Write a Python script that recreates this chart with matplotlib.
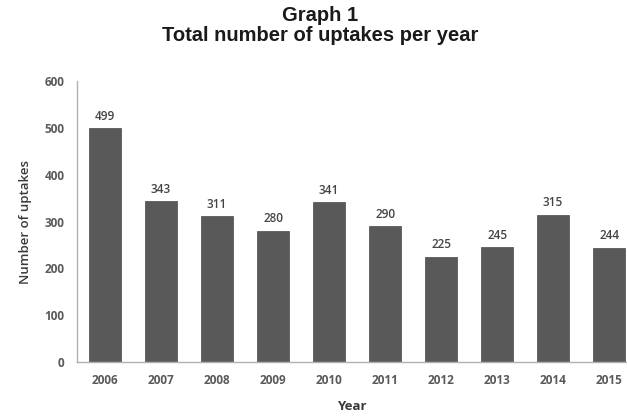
import matplotlib
matplotlib.use("Agg")
import matplotlib.pyplot as plt

years = ["2006", "2007", "2008", "2009", "2010", "2011", "2012", "2013", "2014", "2015"]
uptakes = [499, 343, 311, 280, 341, 290, 225, 245, 315, 244]
y_ticks = [0, 100, 200, 300, 400, 500, 600]

fig = plt.figure(figsize=(6.27, 4.18), dpi=100)
ax = fig.add_axes([0.123, 0.134, 0.877, 0.672])

x = range(len(years))
ax.bar(x, uptakes, width=0.57, color="#595959", edgecolor="#4a4a4a", linewidth=0.5)
for xi, v in zip(x, uptakes):
    ax.text(xi, v + 12, str(v), ha="center", va="bottom", fontsize=8.5,
            color="#444444", family="Open Sans", fontweight="semibold")

ax.set_xlim(-0.5, 9.32)
ax.set_ylim(0, 600)
ax.set_yticks(y_ticks)
ax.set_xticks(list(x))
ax.set_xticklabels(years)
for lab in ax.get_xticklabels() + ax.get_yticklabels():
    lab.set_family("Open Sans")
    lab.set_fontweight("bold")
    lab.set_fontsize(8.5)
    lab.set_color("#5a5a5a")
ax.tick_params(length=0, pad=9)

for s in ["top", "right"]:
    ax.spines[s].set_visible(False)
for s in ["left", "bottom"]:
    ax.spines[s].set_color("#b0b0b0")
    ax.spines[s].set_linewidth(1)

ax.set_ylabel("Number of uptakes", fontsize=9.5, color="#3a3a3a", family="Open Sans",
              fontweight="semibold", labelpad=9)
ax.set_xlabel("Year", fontsize=9.5, color="#3a3a3a", family="Open Sans",
              fontweight="bold", labelpad=9)

fig.text(0.51, 0.985, "Graph 1\nTotal number of uptakes per year", ha="center", va="top",
         fontsize=14.5, fontweight="bold", family="Liberation Sans", color="#1a1a1a",
         linespacing=1.05)

fig.savefig("out.png", dpi=100)
